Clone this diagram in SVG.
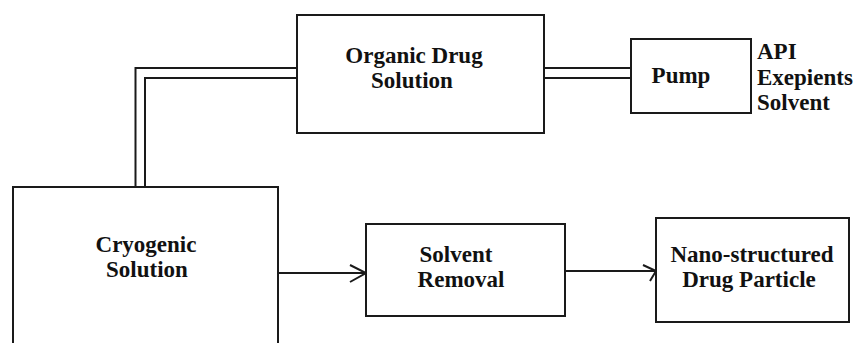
<svg xmlns="http://www.w3.org/2000/svg" width="857" height="343" viewBox="0 0 857 343">
<style>
.box{fill:#fff;stroke:#1a1a1a;stroke-width:2}
.ln{fill:none;stroke:#1a1a1a;stroke-width:2}
.t{font-family:"Liberation Serif","DejaVu Serif","Times New Roman",serif;font-weight:bold;font-size:23px;fill:#111;text-anchor:middle}
.s{text-anchor:start}
</style>
<rect width="857" height="343" fill="#fff"/>
<g id="connectors">
<path class="ln" d="M297,68 H135.5 V187"/>
<path class="ln" d="M297,78 H145 V187"/>
<path class="ln" d="M544,68 H631"/>
<path class="ln" d="M544,78 H631"/>
<path class="ln" d="M278,273 H366"/>
<path class="ln" d="M350,265 L366,273 L350,282" stroke-width="1.5"/>
<path class="ln" d="M565,271 H656"/>
<path class="ln" d="M643,265 L656,271 L650,281" stroke-width="1.5"/>
</g>
<g id="organic">
<rect class="box" x="297" y="15" width="247" height="118"/>
<text class="t" x="414" y="63">Organic Drug</text>
<text class="t" x="412" y="88">Solution</text>
</g>
<g id="pump">
<rect class="box" x="631" y="39" width="120" height="74"/>
<text class="t" x="681" y="83">Pump</text>
</g>
<g id="inputs">
<text class="t s" x="757" y="59">API</text>
<text class="t s" x="757" y="85">Exepients</text>
<text class="t s" x="757" y="110">Solvent</text>
</g>
<g id="cryogenic">
<rect class="box" x="13" y="187" width="265" height="170"/>
<text class="t" x="146" y="252">Cryogenic</text>
<text class="t" x="147" y="277">Solution</text>
</g>
<g id="solvent-removal">
<rect class="box" x="366" y="224" width="199" height="92"/>
<text class="t" x="456" y="262">Solvent</text>
<text class="t" x="461" y="287">Removal</text>
</g>
<g id="nano">
<rect class="box" x="656" y="218" width="193" height="104"/>
<text class="t" x="752" y="262">Nano-structured</text>
<text class="t" x="749" y="287">Drug Particle</text>
</g>
</svg>
